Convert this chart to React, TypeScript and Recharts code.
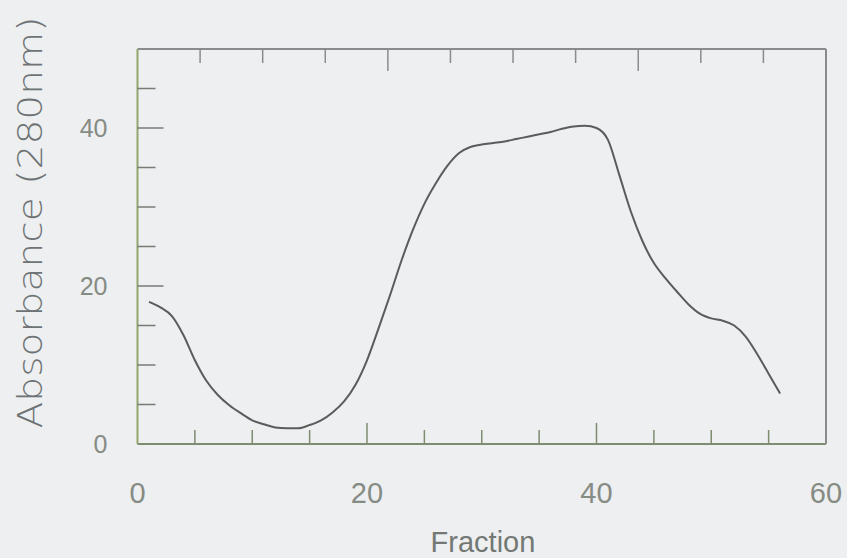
import { Label, Line, LineChart, XAxis, YAxis } from "recharts";

const fractions = [
  1, 2, 3, 4, 5, 6, 7, 8, 9, 10, 11, 12, 13, 14, 15, 16, 17, 18, 19, 20,
  21, 22, 23, 24, 25, 26, 27, 28, 29, 30, 31, 32, 33, 34, 35, 36, 37, 38, 39, 40,
  41, 42, 43, 44, 45, 46, 47, 48, 49, 50, 51, 52, 53, 54, 55, 56,
];
const absorbance = [
  18.0, 17.3, 16.2, 13.8, 10.6, 8.0, 6.2, 4.9, 3.9, 3.0, 2.5, 2.1, 2.0, 2.0, 2.4, 3.0, 4.0, 5.4, 7.5, 10.6,
  14.6, 18.8, 23.2, 27.1, 30.4, 33.0, 35.2, 36.8, 37.6, 37.9, 38.1, 38.3, 38.6, 38.9, 39.2, 39.5, 39.9, 40.2, 40.3, 40.0,
  38.5, 34.0, 29.4, 25.7, 22.9, 21.0, 19.3, 17.7, 16.5, 15.9, 15.6, 15.0, 13.6, 11.4, 8.9, 6.4,
];
const xTicks = [0, 5, 10, 15, 20, 25, 30, 35, 40, 45, 50, 55, 60];
const yTicks = [0, 5, 10, 15, 20, 25, 30, 35, 40, 45, 50];
const xLabels = [0, 20, 40, 60];
const yLabels = [0, 20, 40];

const data = fractions.map((f, i) => ({ fraction: f, absorbance: absorbance[i] }));

const labelFont = "'Liberation Sans', Arial, sans-serif";
const labelColor = "#868b84";

type Side = "left" | "right" | "top" | "bottom";

// inward tick marks, longer at the labelled values
const tickLen = {
  left: [18, 26],
  right: [15, 23],
  top: [14, 22],
  bottom: [14, 21],
};

function makeTick(side: Side, max: number, labels: number[], color: string) {
  return (props: any) => {
    const { x, y, payload } = props;
    const v = payload.value;
    const major = v % 20 === 0 ? 1 : 0;
    const len = tickLen[side][major];
    const edge = v === 0 || v === max;
    let line = null;
    if (!edge) {
      if (side === "left") line = <line x1={x} y1={y} x2={x + len} y2={y} stroke={color} strokeWidth={1.5} />;
      if (side === "right") line = <line x1={x} y1={y} x2={x - len} y2={y} stroke={color} strokeWidth={1.5} />;
      if (side === "top") line = <line x1={x} y1={y} x2={x} y2={y + len} stroke={color} strokeWidth={1.5} />;
      if (side === "bottom") line = <line x1={x} y1={y} x2={x} y2={y - len} stroke={color} strokeWidth={1.5} />;
    }
    let text = null;
    if (labels.includes(v)) {
      if (side === "left")
        text = (
          <text x={x - 30} y={y} textAnchor="end" dominantBaseline="central" fontFamily={labelFont} fontSize={25} fill={labelColor}>
            {v}
          </text>
        );
      if (side === "bottom")
        text = (
          <text x={x} y={y + 49} textAnchor="middle" dominantBaseline="central" fontFamily={labelFont} fontSize={29} fill={labelColor}>
            {v}
          </text>
        );
    }
    return (
      <g>
        {line}
        {text}
      </g>
    );
  };
}

export default function App() {
  return (
    <div style={{ position: "fixed", left: 0, top: 0, width: 847, height: 558, background: "#edeff0" }}>
      <LineChart width={847} height={558} data={data} margin={{ top: 48, right: 20, bottom: 113, left: 136.5 }}>
        <XAxis
          dataKey="fraction"
          type="number"
          domain={[0, 60]}
          ticks={xTicks}
          interval={0}
          height={1}
          tickSize={0}
          tickMargin={0}
          tickLine={false}
          axisLine={{ stroke: "#7f8c72", strokeWidth: 2 }}
          tick={makeTick("bottom", 60, xLabels, "#7f8c72")}
        >
          <Label
            content={(p: any) => (
              <text
                x={p.viewBox.x + 345.5}
                y={p.viewBox.y + 108}
                textAnchor="middle"
                fontFamily={labelFont}
                fontSize={29}
                fill="#737874"
              >
                Fraction
              </text>
            )}
          />
        </XAxis>
        <XAxis
          xAxisId="top"
          orientation="top"
          type="number"
          domain={[0, 60]}
          ticks={xTicks}
          interval={0}
          height={1}
          tickSize={0}
          tickMargin={0}
          tickLine={false}
          axisLine={{ stroke: "#8a8c8c", strokeWidth: 2 }}
          tick={makeTick("top", 60, [], "#8a8c8c")}
        />
        <YAxis
          type="number"
          domain={[0, 50]}
          ticks={yTicks}
          interval={0}
          width={1}
          tickSize={0}
          tickMargin={0}
          tickLine={false}
          axisLine={{ stroke: "#93a56c", strokeWidth: 2 }}
          tick={makeTick("left", 50, yLabels, "#777b76")}
        >
          <Label
            content={(p: any) => {
              const cx = p.viewBox.x - 107;
              const cy = p.viewBox.y + p.viewBox.height / 2 - 24;
              return (
                <text
                  x={cx}
                  y={cy}
                  transform={`rotate(-90 ${cx} ${cy})`}
                  textAnchor="middle"
                  dominantBaseline="central"
                  fontFamily="'DejaVu Sans', sans-serif"
                  fontWeight={200}
                  fontSize={34}
                  textLength={412}
                  lengthAdjust="spacingAndGlyphs"
                  fill="#6e7376"
                >
                  Absorbance (280nm)
                </text>
              );
            }}
          />
        </YAxis>
        <YAxis
          yAxisId="right"
          orientation="right"
          type="number"
          domain={[0, 50]}
          ticks={yTicks}
          interval={0}
          width={1}
          tickSize={0}
          tickMargin={0}
          tickLine={false}
          axisLine={{ stroke: "#8a8c8c", strokeWidth: 2 }}
          tick={makeTick("right", 50, [], "#8a8c8c")}
        />
        <Line
          dataKey="absorbance"
          type="monotone"
          stroke="#585d5c"
          strokeWidth={2}
          dot={false}
          isAnimationActive={false}
        />
      </LineChart>
    </div>
  );
}
